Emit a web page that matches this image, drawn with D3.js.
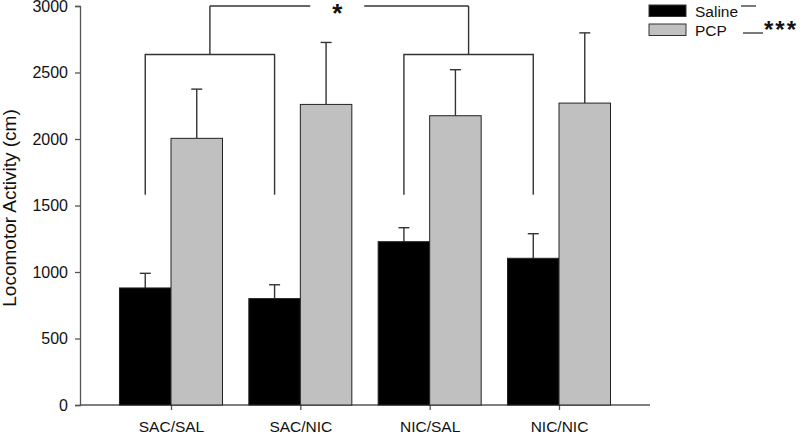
<!DOCTYPE html>
<html>
<head>
<meta charset="utf-8">
<script src="https://cdn.jsdelivr.net/npm/d3@7"></script>
<style>
  html, body { margin: 0; padding: 0; background: #fff; }
  svg { display: block; font-family: "Liberation Sans", Arial, sans-serif; }
</style>
</head>
<body>
<svg id="chart" width="800" height="433"></svg>
<script>
// ---- data ----
const categories = ["SAC/SAL", "SAC/NIC", "NIC/SAL", "NIC/NIC"];
const salineMeans = [880, 800, 1228, 1103];
const salineErrors = [110, 104, 105, 185];
const pcpMeans = [2005, 2260, 2175, 2270];
const pcpErrors = [370, 466, 346, 528];
const yTicks = [0, 500, 1000, 1500, 2000, 2500, 3000];
const seriesNames = ["Saline", "PCP"];
const bracketLow = 1580;   // level where bracket legs end
const bracketMid = 2635;   // level of lower brackets
const bracketTop = 3000;   // level of top bracket

const svg = d3.select("#chart");
const colors = { Saline: "#000000", PCP: "#c0c0c0" };
const lineColor = "#333";

const y = d3.scaleLinear().domain([0, 3000]).range([405, 6]);
const x = d3.scalePoint().domain(categories).range([80, 650]).padding(0.7035);
const barW = 51.5;

// axes
const yAxis = d3.axisLeft(y).tickValues(yTicks).tickSize(5).tickPadding(7).tickFormat(d3.format("d"));
const gy = svg.append("g").attr("transform", "translate(80,0)").call(yAxis);
const xAxis = d3.axisBottom(x).tickSize(5).tickPadding(11);
const gx = svg.append("g").attr("transform", "translate(0,405)").call(xAxis);
[gy, gx].forEach(g => {
  g.select(".domain").attr("stroke", "#555").attr("stroke-width", 1.3);
  g.selectAll(".tick line").attr("stroke", "#555").attr("stroke-width", 1.3);
  g.selectAll(".tick text").attr("fill", "#111").style("font-family", "Liberation Sans, Arial, sans-serif");
});
gy.selectAll(".tick text").style("font-size", "16px");
gx.selectAll(".tick text").style("font-size", "15.5px");
gx.select(".domain").attr("d", "M80,0H650");

// y label
svg.append("text")
  .attr("transform", "translate(16,208) rotate(-90)")
  .attr("text-anchor", "middle")
  .style("font-size", "19px")
  .attr("fill", "#111")
  .text("Locomotor Activity (cm)");

// bars
const rows = categories.map((c, i) => [
  { cat: c, s: "Saline", v: salineMeans[i], e: salineErrors[i], x0: x(c) - barW },
  { cat: c, s: "PCP", v: pcpMeans[i], e: pcpErrors[i], x0: x(c) }
]).flat();

// error bars (up only) drawn first
const eb = svg.append("g");
rows.forEach(r => {
  const cx = r.x0 + barW / 2;
  eb.append("line").attr("x1", cx).attr("x2", cx).attr("y1", y(r.v)).attr("y2", y(r.v + r.e))
    .attr("stroke", lineColor).attr("stroke-width", 1.4);
  eb.append("line").attr("x1", cx - 5.5).attr("x2", cx + 5.5).attr("y1", y(r.v + r.e)).attr("y2", y(r.v + r.e))
    .attr("stroke", lineColor).attr("stroke-width", 1.4);
});

svg.append("g").selectAll("rect").data(rows).join("rect")
  .attr("x", d => d.x0)
  .attr("y", d => y(d.v))
  .attr("width", barW)
  .attr("height", d => y(0) - y(d.v))
  .attr("fill", d => colors[d.s])
  .attr("stroke", "#222")
  .attr("stroke-width", 1);

// significance brackets
const br = svg.append("g").attr("fill", "none").attr("stroke", lineColor).attr("stroke-width", 1.4);
const blackCenter = c => x(c) - barW / 2;
const pairs = [[categories[0], categories[1]], [categories[2], categories[3]]];
const stems = [];
pairs.forEach(([a, b]) => {
  const xa = blackCenter(a), xb = blackCenter(b);
  br.append("path").attr("d", `M${xa},${y(bracketLow)}V${y(bracketMid)}H${xb}V${y(bracketLow)}`);
  const xm = (xa + xb) / 2;
  stems.push(xm);
  br.append("path").attr("d", `M${xm},${y(bracketMid)}V${y(bracketTop)}`);
});
const midX = (stems[0] + stems[1]) / 2;
br.append("path").attr("d", `M${stems[0]},${y(bracketTop)}H${midX - 29}`);
br.append("path").attr("d", `M${midX + 25},${y(bracketTop)}H${stems[1]}`);
svg.append("text").attr("x", midX - 2).attr("y", 22).attr("text-anchor", "middle")
  .style("font-size", "26px").style("font-weight", "bold").attr("fill", "#111").text("*");

// legend
const lg = svg.append("g");
seriesNames.forEach((s, i) => {
  const top = [5, 24][i];
  lg.append("rect").attr("x", 649).attr("y", top).attr("width", 37).attr("height", 11.5)
    .attr("fill", colors[s]).attr("stroke", "#333").attr("stroke-width", 1);
  lg.append("text").attr("x", 695).attr("y", top + 11.5).style("font-size", "15.5px")
    .attr("fill", "#111").text(s);
});
lg.append("line").attr("x1", 741).attr("x2", 756).attr("y1", 6).attr("y2", 6).attr("stroke", lineColor).attr("stroke-width", 1.3);
lg.append("line").attr("x1", 743).attr("x2", 763).attr("y1", 33).attr("y2", 33).attr("stroke", lineColor).attr("stroke-width", 1.3);
lg.append("text").attr("x", 764).attr("y", 38).style("font-size", "24px").style("font-weight", "bold")
  .style("letter-spacing", "2px").attr("fill", "#111").text("***");
</script>
</body>
</html>
